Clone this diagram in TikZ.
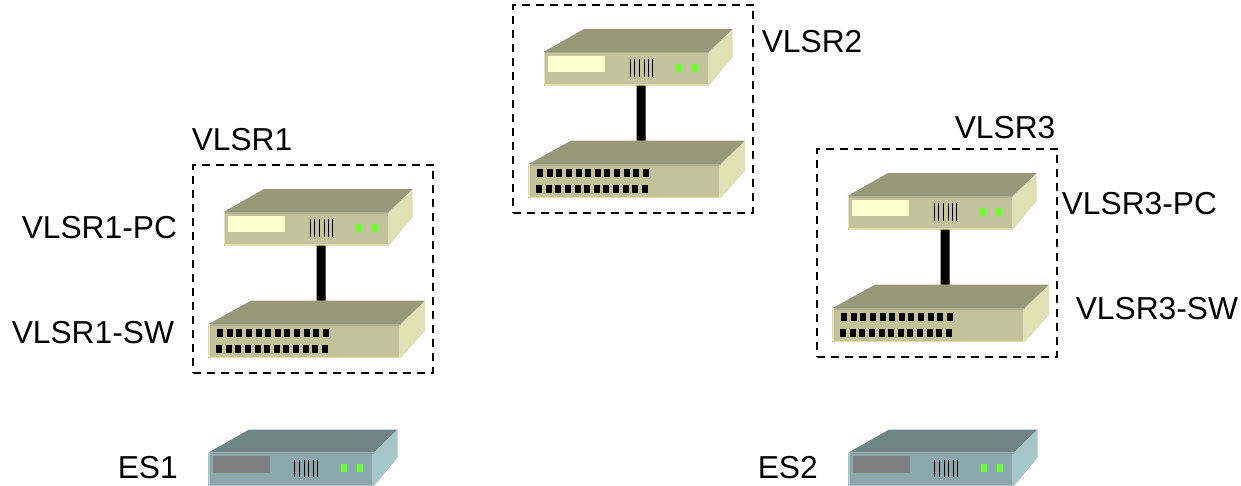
\documentclass[tikz,border=0pt]{standalone}
\usepackage{fontspec}
\setmainfont{Liberation Sans}
\definecolor{tantop}{HTML}{98987A}
\definecolor{tanfront}{HTML}{C3C39B}
\definecolor{tanside}{HTML}{E0E0B5}
\definecolor{tanedge}{HTML}{AEAE8A}
\definecolor{tanwindow}{HTML}{FFFFD0}
\definecolor{tealtop}{HTML}{6F8484}
\definecolor{tealfront}{HTML}{8CA8AC}
\definecolor{tealside}{HTML}{A6C6CA}
\definecolor{tealedge}{HTML}{7F9A9E}
\definecolor{tealwindow}{HTML}{808080}
\definecolor{ledgreen}{HTML}{66FF33}
\tikzset{
  dashbox/.style={draw,line width=1.5pt,dash pattern=on 6pt off 4.5pt,minimum width=180pt,minimum height=156.5pt,inner sep=0pt},
  lbl/.style={anchor=base west,inner sep=0pt,font=\fontsize{23.8}{28}\selectfont},
  wire/.style={line width=6.75pt},
  pics/pcbox/.style={code={
    \fill[#1top] (0,0) -- (40.5,-23) -- (189.2,-23) -- (165.5,0) -- cycle;
    \fill[#1side] (165.5,0) -- (189.2,-23) -- (189.2,5) -- (165.5,33.5) -- cycle;
    \fill[#1front] (0,0) rectangle (165.5,33.5);
    \fill[#1edge] (0,0) rectangle (165.5,1.5);
    \fill[#1side] (0,0) rectangle (1.7,32);
    \fill[#1side] (164,1) rectangle (165.5,33.5);
    \fill[#1side] (1,32.2) rectangle (165.5,33.5);
    \fill[#1window] (4.2,3.7) rectangle (61.5,20);
    \foreach \g in {86.5,91.2,95.8,100.5,104.7,109.2} {
      \draw[line width=0.75pt] (\g,7.3) -- (\g,24.7);
    }
    \foreach \g in {132.8,148.8} {
      \fill[ledgreen] (\g,11.7) rectangle (\g+6,19.7);
    }
    \coordinate (-wire) at (97.5,33.5);
  }},
  pics/swbox/.style={code={
    \fill[#1top] (0,0) -- (42.4,-23.6) -- (216.7,-23.6) -- (192.4,0) -- cycle;
    \fill[#1side] (192.4,0) -- (216.7,-23.6) -- (216.7,6.4) -- (192.4,34) -- cycle;
    \fill[#1front] (0,0) rectangle (192.4,34);
    \fill[#1edge] (0,0) rectangle (192.4,1.5);
    \fill[#1side] (0,0) rectangle (1.7,32.5);
    \fill[#1side] (191,1) rectangle (192.4,34);
    \fill[#1side] (1,32.7) rectangle (192.4,34);
    \foreach \p in {0,...,11} {
      \fill (8.7+\p*9.64,5) rectangle (14.7+\p*9.64,13);
      \fill (7.7+\p*9.64,20.7) rectangle (13.7+\p*9.64,29);
    }
    \coordinate (-wire) at (112.7,-23.6);
  }}
}
\begin{document}
\begin{tikzpicture}[x=0.75pt,y=-0.75pt]
\useasboundingbox (0,0) rectangle (1241,485);
\foreach \i/\a/\b in {1/0/0,2/320/-160,3/624/-16} {
  \node[dashbox] (box\i) at (313+\a,269+\b) {};
  \pic (sw\i) at (208.3+\a,324.3+\b) {swbox=tan};
  \pic (pc\i) at (223.5+\a,212+\b) {pcbox=tan};
  \draw[wire] (pc\i-wire) -- (sw\i-wire);
}
\pic (es1) at (208.3,452.7) {pcbox=teal};
\pic (es2) at (848.3,452.7) {pcbox=teal};
\node[lbl] (vlsr1) at (191.5,150) {VLSR1};
\node[lbl] (vlsr1pc) at (21.5,238) {VLSR1-PC};
\node[lbl] (vlsr1sw) at (11.5,343) {VLSR1-SW};
\node[lbl] (vlsr2) at (761.5,53) {VLSR2};
\node[lbl] (vlsr3) at (954.5,138) {VLSR3};
\node[lbl] (vlsr3pc) at (1061.5,214) {VLSR3-PC};
\node[lbl] (vlsr3sw) at (1075.5,319) {VLSR3-SW};
\node[lbl] (es1lbl) at (117.5,478) {ES1};
\node[lbl] (es2lbl) at (757.5,478) {ES2};
\end{tikzpicture}
\end{document}
